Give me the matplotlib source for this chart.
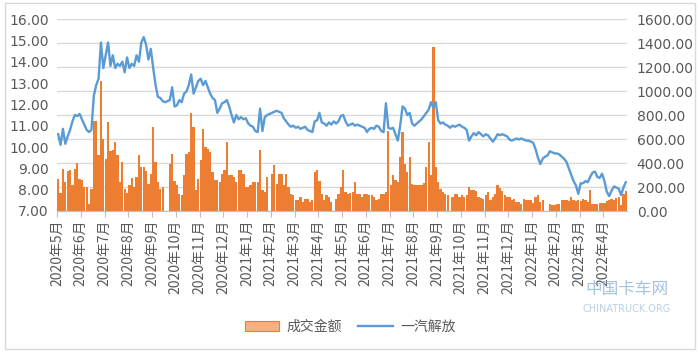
import numpy as np
import matplotlib
matplotlib.use('Agg')
import matplotlib.pyplot as plt
from matplotlib.patches import Patch, Rectangle
from matplotlib.lines import Line2D

plt.rcParams['font.family'] = ['DejaVu Sans', 'Noto Sans CJK SC']

# month labels (10 samples per month)
months = ['2020年5月', '2020年6月', '2020年7月', '2020年8月', '2020年9月', '2020年10月',
          '2020年11月', '2020年12月', '2021年1月', '2021年2月', '2021年3月', '2021年4月',
          '2021年5月', '2021年6月', '2021年7月', '2021年8月', '2021年9月', '2021年10月',
          '2021年11月', '2021年12月', '2022年1月', '2022年2月', '2022年3月', '2022年4月']

# 一汽解放 share price (left axis)
price = [10.6, 10.1, 10.85, 10.15, 10.5, 10.8, 11.2, 11.5, 11.45, 11.55,
         11.3, 11.05, 10.8, 10.7, 10.8, 12.4, 12.9, 13.2, 14.9, 13.7,
         14.3, 14.9, 13.8, 14.3, 13.7, 13.9, 13.8, 14.0, 13.5, 14.2,
         13.7, 13.9, 13.8, 14.3, 14.0, 14.9, 15.15, 14.8, 14.1, 14.6,
         13.7, 12.9, 12.35, 12.3, 12.15, 12.1, 12.15, 12.2, 12.8, 11.9,
         11.95, 12.2, 12.1, 12.5, 12.6, 12.9, 13.4, 12.5, 12.8, 13.1,
         13.2, 12.9, 13.1, 12.8, 12.5, 12.3, 12.2, 11.6, 11.8, 12.05,
         12.1, 12.2, 11.9, 11.5, 11.15, 11.5, 11.3, 11.4, 11.3, 11.35,
         11.1, 11.0, 10.95, 10.75, 10.7, 11.8, 10.75, 11.4, 11.5, 11.55,
         11.6, 11.65, 11.7, 11.65, 11.6, 11.35, 11.2, 11.05, 10.95, 11.0,
         10.9, 10.95, 10.85, 10.9, 10.95, 10.8, 10.75, 10.7, 11.2, 11.25,
         11.6, 11.15, 11.1, 11.0, 11.15, 11.05, 11.2, 11.1, 11.2, 11.45,
         11.5, 11.2, 11.0, 11.05, 11.1, 11.0, 11.05, 11.0, 10.95, 10.9,
         10.7, 10.85, 10.9, 10.85, 11.0, 10.95, 10.75, 10.7, 12.05, 10.9,
         10.85, 10.9, 10.6, 10.3, 11.0, 11.9, 11.8, 11.5, 11.6, 11.1,
         11.0, 11.1, 11.2, 11.3, 11.45, 11.6, 11.75, 12.1, 11.85, 12.1,
         11.25, 11.1, 11.15, 11.05, 11.0, 10.9, 11.0, 10.95, 11.0, 11.05,
         10.95, 10.9, 10.8, 10.3, 10.5, 10.65, 10.55, 10.7, 10.6, 10.5,
         10.6, 10.55, 10.4, 10.25, 10.4, 10.6, 10.55, 10.6, 10.55, 10.5,
         10.35, 10.3, 10.35, 10.4, 10.35, 10.4, 10.35, 10.3, 10.3, 10.25,
         10.2, 9.9, 9.5, 9.2, 9.45, 9.55, 9.6, 9.8, 9.75, 9.7,
         9.7, 9.65, 9.55, 9.45, 9.3, 9.0, 8.7, 8.4, 8.2, 7.8,
         8.3, 8.3, 8.4, 8.35, 8.6, 8.8, 8.85, 8.6, 8.55, 8.75,
         8.4, 7.9, 7.7, 7.95, 8.15, 8.1, 8.05, 7.75, 8.1, 8.35]

# 成交金额 turnover (right axis)
amount = [265, 150, 354, 243, 332, 338, 215, 354, 396, 270,
          260, 201, 201, 60, 187, 749, 749, 465, 1083, 600,
          430, 743, 500, 507, 577, 465, 243, 410, 187, 146,
          215, 271, 200, 285, 465, 368, 368, 330, 229, 312,
          702, 410, 243, 187, 200, 0, 0, 395, 479, 250,
          214, 145, 131, 298, 479, 493, 813, 701, 173, 270,
          423, 687, 534, 520, 493, 326, 256, 256, 242, 312,
          340, 576, 300, 298, 284, 242, 340, 340, 312, 200,
          200, 214, 242, 242, 242, 507, 173, 159, 284, 0,
          312, 381, 228, 312, 312, 214, 312, 200, 145, 131,
          89, 89, 117, 75, 103, 103, 75, 90, 326, 340,
          250, 145, 89, 131, 120, 75, 0, 103, 145, 200,
          340, 159, 145, 150, 159, 242, 145, 145, 117, 145,
          145, 131, 131, 117, 89, 100, 145, 145, 159, 670,
          214, 298, 260, 242, 451, 660, 395, 326, 451, 228,
          214, 214, 214, 214, 230, 367, 576, 298, 1369, 367,
          242, 180, 159, 145, 130, 0, 117, 145, 145, 117,
          131, 118, 131, 200, 173, 173, 165, 120, 110, 103,
          130, 160, 90, 120, 140, 214, 193, 170, 131, 118,
          117, 89, 103, 76, 75, 62, 104, 95, 90, 90,
          70, 118, 131, 76, 89, 0, 0, 55, 48, 50,
          62, 62, 90, 95, 90, 85, 118, 90, 85, 95,
          80, 104, 90, 76, 174, 60, 62, 62, 70, 65,
          70, 80, 90, 104, 95, 110, 118, 48, 140, 170]

x = np.arange(len(price))
grey = '#595959'

fig = plt.figure(figsize=(7, 3.52), dpi=100)
fig.add_artist(Rectangle((0.007, 0.008), 0.986, 0.984, transform=fig.transFigure,
                         fill=False, edgecolor='#D9D9D9', lw=1))

ax2 = fig.add_axes([57/700, 1-211/352, 570/700, 192/352])
ax = ax2.twinx()

ax2.bar(x, amount, width=0.95, color='#ED7D31', linewidth=0)
ax2.set_ylim(0, 1600)
ax2.set_yticks(np.arange(0, 1601, 200))
ax2.set_yticklabels(['%.2f' % v for v in np.arange(0, 1601, 200)])
ax2.yaxis.tick_right()
ax2.grid(axis='y', color='#D9D9D9', lw=1)
ax2.set_axisbelow(True)

ax.plot(x, price, color='#5B9BD5', lw=1.7)
ax.set_ylim(7, 16)
ax.set_yticks(np.arange(7, 17, 1))
ax.set_yticklabels(['%.2f' % v for v in np.arange(7, 17, 1)])
ax.yaxis.tick_left()

ax.set_zorder(ax2.get_zorder() + 1)
ax.patch.set_visible(False)

ax2.set_xlim(-0.5, len(price) - 0.5)
ticks = np.arange(len(months)) * 10 - 0.5
ax2.set_xticks(ticks)
ax2.set_xticklabels(months, rotation=90, fontsize=10, color=grey,
                    family=['Noto Sans CJK SC', 'DejaVu Sans'])
ax2.tick_params(axis='x', length=4, color='#BFBFBF', pad=2)
ax2.tick_params(axis='y', length=0, pad=7, labelsize=10, labelcolor=grey)
ax.tick_params(axis='y', length=0, pad=6, labelsize=10, labelcolor=grey)

for a in (ax, ax2):
    for s in ('top', 'left', 'right'):
        a.spines[s].set_visible(False)
    a.spines['bottom'].set_color('#BFBFBF')

handles = [Patch(facecolor='#F4B183', edgecolor='#ED7D31', lw=0.8),
           Line2D([], [], color='#5B9BD5', lw=1.7)]
fig.legend(handles, ['成交金额', '一汽解放'], loc='center', bbox_to_anchor=(0.5, 1-327/352),
           ncol=2, frameon=False, handlelength=2.5, handleheight=0.8, handletextpad=0.5,
           columnspacing=1.2, prop={'family': ['Noto Sans CJK SC', 'DejaVu Sans'], 'size': 10},
           labelcolor=grey)

# watermark
fig.text(0.895, 0.165, '中国卡车网', color='#8FB4D9', fontsize=12, ha='center',
         family=['Noto Sans CJK SC'], alpha=0.8)
fig.text(0.895, 0.115, 'CHINATRUCK.ORG', color='#A9C4DE', fontsize=7, ha='center', alpha=0.8)

fig.savefig('out.png', dpi=100)
